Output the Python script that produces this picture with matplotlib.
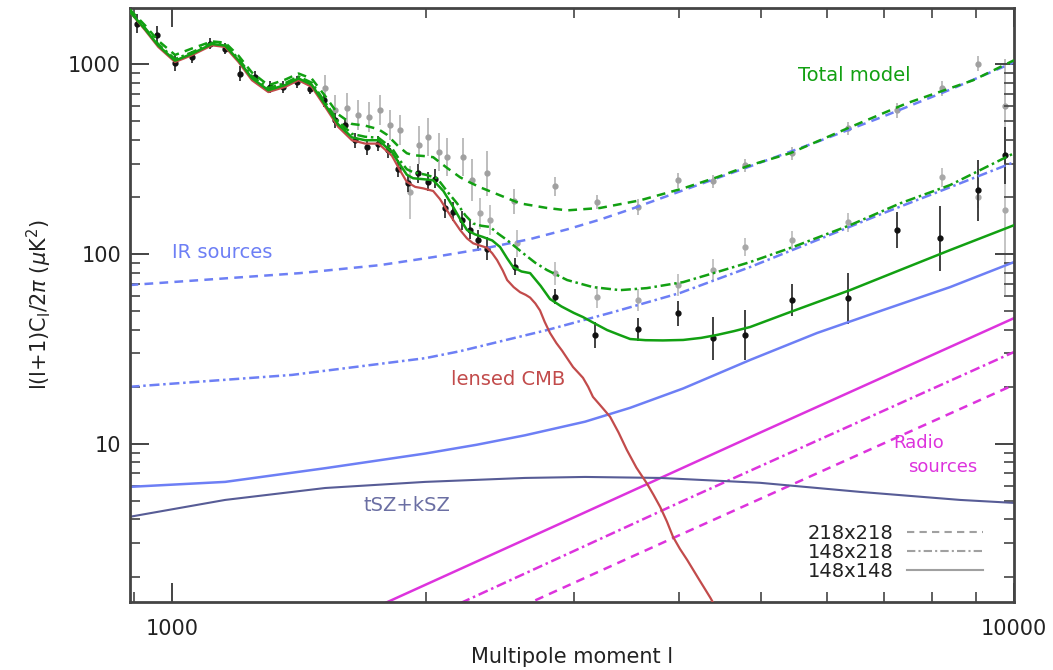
import numpy as np
import matplotlib.pyplot as plt
from matplotlib.lines import Line2D
from matplotlib.ticker import LogLocator, FuncFormatter, NullFormatter

plt.rcParams['font.family'] = ['DejaVu Sans']

# lensed CMB
cmb_l = [890, 929, 963, 1008, 1055, 1115, 1156, 1199, 1244, 1301, 1362, 1413, 1465, 1520,
         1575, 1635, 1696, 1758, 1824, 1866, 1900, 1944, 1987, 2042, 2080, 2121, 2160, 2198,
         2240, 2278, 2320, 2366, 2400, 2432, 2470, 2500, 2545, 2590, 2630, 2662, 2700, 2735,
         2770, 2811, 2860, 2905, 2950, 2994, 3035, 3076, 3120, 3161, 3240, 3313, 3390, 3468,
         3560, 3663, 3730, 3799, 3870, 3935, 4010, 4090, 4220, 4357, 4500]
cmb_y = [1900, 1510, 1233, 1028, 1115, 1259, 1233, 1028, 824, 714, 760, 824, 760, 596,
         468, 398, 382, 382, 330, 275, 240, 226, 222, 215, 195, 170, 150, 134,
         121, 114, 111, 108, 101, 93, 82, 73, 67, 63, 61, 59, 55, 50.5,
         44, 38.4, 34, 31, 28, 25.4, 23.8, 22.3, 20, 17.7, 15.6, 13.9, 11.5, 9.3,
         7.5, 6.2, 5.4, 4.66, 3.9, 3.24, 2.8, 2.45, 1.95, 1.55, 1.2]

# total model, three spectra
tot148_l = [890, 929, 963, 1008, 1055, 1115, 1156, 1199, 1244, 1301, 1362, 1413, 1465, 1520,
            1575, 1635, 1696, 1758, 1824, 1866, 1900, 1933, 1990, 2042, 2100, 2157, 2200, 2240,
            2290, 2341, 2400, 2452, 2500, 2541, 2600, 2662, 2740, 2811, 2900, 3000, 3076, 3180,
            3286, 3400, 3500, 3650, 3828, 4046, 4250, 4437, 4650, 4859, 5420, 6385, 7321, 8394,
            10000]
tot148_y = [1900, 1530, 1255, 1045, 1135, 1280, 1255, 1050, 845, 730, 778, 842, 780, 612,
            482, 412, 398, 398, 345, 295, 262, 251, 248, 245, 215, 177, 152, 134,
            127, 123, 118, 109, 95, 85.5, 81, 79.4, 68, 58, 53, 49, 46.6, 43,
            39.8, 37.5, 35.7, 35.2, 35.1, 35.3, 36.2, 37.5, 39.3, 41.3, 49.5, 64.6, 82.4, 105,
            142]

tot148x218_l = [890, 929, 963, 1008, 1055, 1115, 1156, 1199, 1244, 1301, 1362, 1413, 1465,
                1520, 1575, 1635, 1696, 1758, 1824, 1866, 1900, 1933, 2000, 2064, 2120, 2180,
                2230, 2278, 2330, 2386, 2440, 2500, 2612, 2700, 2788, 2946, 3161, 3404, 3663,
                4046, 4437, 4859, 5463, 6385, 7321, 8394, 10000]
tot148x218_y = [1920, 1550, 1275, 1065, 1155, 1295, 1270, 1070, 865, 750, 795, 862, 800,
                630, 500, 430, 415, 410, 362, 310, 280, 270, 262, 251, 215, 185,
                160, 145, 141, 139, 128, 118.5, 101, 90, 82.4, 73, 67, 64.6, 66.2,
                71.2, 80.4, 90.8, 109, 142, 185, 231, 340]

tot218_l = [890, 929, 963, 1008, 1055, 1115, 1156, 1199, 1244, 1301, 1362, 1413, 1465, 1520,
            1575, 1635, 1696, 1758, 1800, 1854, 1900, 1933, 2000, 2042, 2120, 2198, 2260, 2321,
            2452, 2590, 2788, 2946, 3223, 3596, 4046, 4437, 4859, 5420, 6385, 7464, 8941, 10000]
tot218_y = [1950, 1600, 1330, 1120, 1210, 1320, 1300, 1110, 905, 775, 830, 894, 840, 680,
            545, 485, 475, 455, 425, 372, 340, 332, 328, 324, 285, 254, 238, 225,
            204, 185, 175, 170, 175, 192, 222, 254, 294, 340, 466, 624, 824, 1050]

# IR sources
ir218_l = [890, 1419, 1766, 2042, 2321, 2662, 2946, 3223, 3500, 4046, 4859, 5834, 6987, 8394, 10000]
ir218_y = [68.7, 79.4, 87.5, 96.4, 106, 120, 135, 152, 172, 217, 290, 390, 530, 735, 1025]
ir148x218_l = [890, 1388, 1998, 2198, 2500, 2788, 3341, 4011, 4859, 5834, 6987, 8394, 10000]
ir148x218_y = [20, 23.1, 28.3, 30.8, 35.4, 39.8, 49.5, 62.4, 85.5, 118.5, 164, 225, 305]
ir148_l = [890, 1156, 1520, 1998, 2300, 2624, 3094, 3500, 4046, 4859, 5834, 6987, 8394, 10000]
ir148_y = [5.94, 6.31, 7.45, 8.9, 9.9, 11.1, 13.1, 15.5, 19.6, 27.7, 38.4, 50.7, 67, 90.8]

# tSZ + kSZ
sz_l = [890, 1156, 1520, 1998, 2624, 3094, 3799, 4993, 6561, 8629, 10000]
sz_y = [4.13, 5.07, 5.86, 6.31, 6.62, 6.7, 6.62, 6.24, 5.59, 5.07, 4.89]

# radio sources
rad148_l = [1790, 3000, 5000, 10000]
rad148_y = [1.45, 4.1, 11.5, 46]
rad148x218_l = [2200, 4000, 6000, 10000]
rad148x218_y = [1.45, 4.9, 11, 30.5]
rad218_l = [2700, 4000, 6000, 10000]
rad218_y = [1.5, 3.3, 7.4, 20.5]

# band powers (error given as half width in dex)
d148_l = [908, 959, 1008, 1055, 1110, 1156, 1204, 1255, 1307, 1356, 1406, 1458, 1513, 1562,
          1605, 1650, 1703, 1758, 1807, 1857, 1908, 1961, 2016, 2053, 2110, 2158, 2208, 2259,
          2311, 2365, 2555, 2850, 3180, 3580, 3994, 4395, 4792, 5445, 6357, 7256, 8171,
          9070, 9756]
d148_y = [1637, 1421, 1016, 1093, 1285, 1209, 893, 858, 760, 760, 807, 745, 646, 507,
          478, 398, 367, 382, 353, 282, 236, 266, 240, 250, 174, 167, 151, 134,
          118.5, 107, 85.8, 59.6, 37.5, 40.2, 48.7, 36, 37.5, 57.3, 58.5, 134, 121,
          217, 332]
d148_e = [0.05, 0.05, 0.04, 0.03, 0.03, 0.03, 0.04, 0.03, 0.03, 0.03, 0.03, 0.03, 0.035, 0.04,
          0.04, 0.04, 0.04, 0.04, 0.04, 0.045, 0.045, 0.05, 0.05, 0.05, 0.05, 0.05, 0.05, 0.05,
          0.055, 0.06, 0.045, 0.04, 0.07, 0.06, 0.065, 0.115, 0.13, 0.085, 0.135, 0.095, 0.17,
          0.16, 0.15]

d218_l = [1519, 1562, 1613, 1664, 1715, 1766, 1815, 1866, 1966, 2016, 2072, 2120, 2218, 2270,
          2365, 2548, 2850, 3195, 3580, 3994, 4395, 4792, 5445, 6357, 7256, 8210, 9070, 9756]
d218_y = [747, 573, 585, 539, 528, 573, 478, 449, 375, 414, 345, 325, 325, 245,
          266, 190, 228, 188, 177, 245, 242, 294, 340, 459, 573, 747, 1009, 600]
d218_e = [0.07, 0.08, 0.08, 0.08, 0.08, 0.08, 0.08, 0.08, 0.1, 0.1, 0.1, 0.1, 0.1, 0.11,
          0.12, 0.065, 0.05, 0.035, 0.04, 0.04, 0.035, 0.035, 0.035, 0.035, 0.04, 0.04, 0.04, 0.25]

d148x218_l = [1917, 2321, 2386, 2569, 2850, 3197, 3580, 3994, 4395, 4792, 5445, 6357, 8210, 9070, 9756]
d148x218_y = [212, 164, 151, 114, 79.4, 59.4, 57.3, 68.7, 82.4, 109, 118.5, 147, 254, 200, 171]
d148x218_e = [0.14, 0.08, 0.08, 0.07, 0.06, 0.06, 0.06, 0.06, 0.06, 0.05, 0.05, 0.05, 0.05, 0.06, 0.45]

legend_labels = ['218x218', '148x218', '148x148']

green = '#12a012'
blue = '#6d7ff5'
red = '#c24b4b'
magenta = '#dd33dd'
szcol = '#575c96'
dashed = (0, (3.5, 2.5))
dashdot = (0, (4, 1.5, 1, 1.5))
lw = 1.8


def dex_err(y, d):
    y = np.asarray(y, dtype=float)
    d = np.asarray(d, dtype=float)
    return [y - y / 10**d, y * 10**d - y]


fig = plt.figure(figsize=(10.53, 6.70), dpi=100)
ax = fig.add_axes([0.123, 0.1015, 0.840, 0.8866])

# data points
ax.errorbar(d218_l, d218_y, yerr=dex_err(d218_y, d218_e), fmt='o', ms=3.5,
            color='#a0a0a0', ecolor='#bdbdbd', elinewidth=1.4, capsize=0, zorder=1)
ax.errorbar(d148x218_l, d148x218_y, yerr=dex_err(d148x218_y, d148x218_e), fmt='o', ms=3.5,
            color='#a8a8a8', ecolor='#c4c4c4', elinewidth=1.4, capsize=0, zorder=1)
ax.errorbar(d148_l, d148_y, yerr=dex_err(d148_y, d148_e), fmt='o', ms=3.5,
            color='#111111', ecolor='#333333', elinewidth=1.3, capsize=0, zorder=1.5)

# foregrounds
ax.plot(ir218_l, ir218_y, color=blue, lw=lw, ls=dashed, zorder=2)
ax.plot(ir148x218_l, ir148x218_y, color=blue, lw=lw, ls=dashdot, zorder=2)
ax.plot(ir148_l, ir148_y, color=blue, lw=lw, zorder=2)
ax.plot(rad218_l, rad218_y, color=magenta, lw=lw, ls=dashed, zorder=2)
ax.plot(rad148x218_l, rad148x218_y, color=magenta, lw=lw, ls=dashdot, zorder=2)
ax.plot(rad148_l, rad148_y, color=magenta, lw=lw, zorder=2)
ax.plot(sz_l, sz_y, color=szcol, lw=1.5, zorder=2)

# CMB and totals
ax.plot(cmb_l, cmb_y, color=red, lw=1.6, zorder=3)
ax.plot(tot218_l, tot218_y, color=green, lw=lw, ls=dashed, zorder=3)
ax.plot(tot148x218_l, tot148x218_y, color=green, lw=lw, ls=dashdot, zorder=3)
ax.plot(tot148_l, tot148_y, color=green, lw=lw, zorder=3)

ax.set_xscale('log')
ax.set_yscale('log')
ax.set_xlim(890, 10000)
ax.set_ylim(1.47, 1980)

fmt = FuncFormatter(lambda v, p: f"{v:g}")
for axis in (ax.xaxis, ax.yaxis):
    axis.set_major_locator(LogLocator(base=10))
    axis.set_minor_locator(LogLocator(base=10, subs=np.arange(2, 10)))
    axis.set_major_formatter(fmt)
    axis.set_minor_formatter(NullFormatter())

ax.tick_params(which='both', direction='in', top=True, right=True, colors='#444444',
               labelcolor='#222222', labelsize=15)
ax.tick_params(which='major', length=14, width=1.4)
ax.tick_params(which='minor', length=7, width=1.2)
ax.tick_params(axis='x', pad=12)
ax.tick_params(axis='y', pad=6)
for s in ax.spines.values():
    s.set_linewidth(2)
    s.set_color('#444444')

ax.set_xlabel('Multipole moment l', fontsize=15, color='#222222', labelpad=6)
ax.set_ylabel(r'l(l+1)C$_\mathrm{l}$/2$\pi$ ($\mu$K$^2$)', fontsize=15, color='#222222', labelpad=10)

# curve labels
ax.text(0.819, 0.887, 'Total model', color=green, fontsize=14, ha='center', va='center',
        transform=ax.transAxes)
ax.text(0.105, 0.589, 'IR sources', color=blue, fontsize=14, ha='center', va='center',
        transform=ax.transAxes)
ax.text(0.428, 0.374, 'lensed CMB', color=red, fontsize=14, ha='center', va='center',
        transform=ax.transAxes)
ax.text(0.314, 0.163, 'tSZ+kSZ', color='#6b6fa3', fontsize=14, ha='center', va='center',
        transform=ax.transAxes)
ax.text(0.863, 0.268, 'Radio', color=magenta, fontsize=13, ha='left', va='center',
        transform=ax.transAxes)
ax.text(0.880, 0.228, 'sources', color=magenta, fontsize=13, ha='left', va='center',
        transform=ax.transAxes)

handles = [Line2D([], [], color='#a0a0a0', lw=1.5, ls=dashed),
           Line2D([], [], color='#a0a0a0', lw=1.5, ls=dashdot),
           Line2D([], [], color='#a0a0a0', lw=1.5)]
leg = ax.legend(handles, legend_labels, loc='lower right', bbox_to_anchor=(0.965, 0.035),
                frameon=False, markerfirst=False, fontsize=14, handlelength=3.9,
                handletextpad=0.7, labelspacing=0.0, borderpad=0, borderaxespad=0)
for t in leg.get_texts():
    t.set_color('#222222')

fig.savefig('out.png', dpi=100)
